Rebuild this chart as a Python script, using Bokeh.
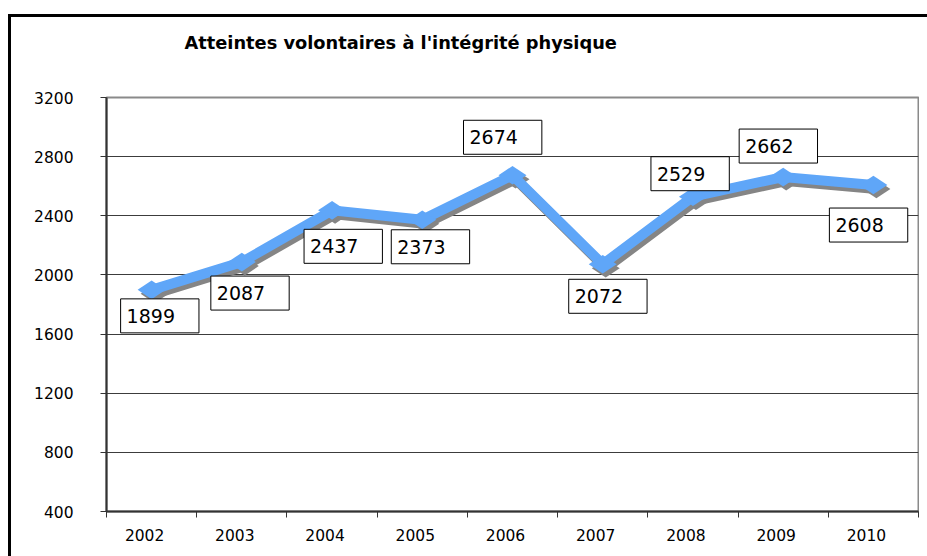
from bokeh.plotting import figure
from bokeh.models import Range1d, FixedTicker, Label, LinearAxis
from bokeh.embed import file_html
from bokeh.resources import INLINE

# ---- data ----
years = ["2002", "2003", "2004", "2005", "2006", "2007", "2008", "2009", "2010"]
values = [1899, 2087, 2437, 2373, 2674, 2072, 2529, 2662, 2608]
y_ticks = [400, 800, 1200, 1600, 2000, 2400, 2800, 3200]
title_text = "Atteintes volontaires à l'intégrité physique"

# label box offsets (px, relative to point: right, down)
label_offsets = [(-31, 9), (-31, 14), (-28, 19), (-31, 10), (-49, -55),
                 (-34, 15), (-42, -40), (-44, -48), (-44, 23)]

n = len(years)
Y0, Y1 = 400, 3200
W, H = 919, 548
ML, MR, MT, MB = 106, 1, 97, 37
frame_w = W - ML - MR
frame_h = H - MT - MB
ux = n / frame_w            # data units per px (x)
uy = (Y1 - Y0) / frame_h    # data units per px (y)

p = figure(width=W, height=H, output_backend="svg", toolbar_location=None,
           x_range=Range1d(0, n), y_range=Range1d(Y0, Y1),
           min_border_left=ML, min_border_right=MR,
           min_border_top=MT, min_border_bottom=MB,
           background_fill_color="white", border_fill_color="white")

# invisible spacer axis between the title and the plot area
mid = n / 2
spacer = LinearAxis(ticker=FixedTicker(ticks=[mid]), major_label_overrides={mid: ""},
                    major_tick_out=45, major_tick_in=0, major_label_standoff=0,
                    minor_tick_out=0, minor_tick_in=0, axis_line_color=None,
                    major_tick_line_color=None, minor_tick_line_color=None,
                    major_label_text_font_size="1px")
p.add_layout(spacer, "above")

# title
p.title.text = title_text
p.title.text_font = "DejaVu Sans"
p.title.text_font_style = "bold"
p.title.text_font_size = "17.8px"
p.title.text_color = "black"
p.title.align = "left"
p.title.vertical_align = "bottom"
p.title.offset = 78
p.title.standoff = 0

# frame outline
p.outline_line_color = "#8a8a8a"
p.outline_line_width = 2

# x axis
xs = [i + 0.5 for i in range(n)]
shift = 7 * ux
lab_pos = [x - shift for x in xs]
xaxis = p.below[0]
xaxis.ticker = FixedTicker(ticks=lab_pos, minor_ticks=list(range(n + 1)))
xaxis.major_label_overrides = {lp: yr for lp, yr in zip(lab_pos, years)}
xaxis.major_tick_line_color = None
xaxis.minor_tick_line_color = "#333333"
xaxis.minor_tick_line_width = 1
xaxis.minor_tick_out = 6
xaxis.minor_tick_in = 0
xaxis.axis_line_color = "#333333"
xaxis.axis_line_width = 2
xaxis.major_label_text_font = "DejaVu Sans"
xaxis.major_label_text_font_size = "15.5px"
xaxis.major_label_text_color = "black"
xaxis.major_label_standoff = 11

# y axis
p.yaxis.ticker = FixedTicker(ticks=y_ticks)
p.yaxis.minor_tick_line_color = None
p.yaxis.major_tick_out = 6
p.yaxis.major_tick_in = 0
p.yaxis.major_tick_line_color = "#333333"
p.yaxis.axis_line_color = "#333333"
p.yaxis.axis_line_width = 2
p.yaxis.major_label_text_font = "DejaVu Sans"
p.yaxis.major_label_text_font_size = "15.5px"
p.yaxis.major_label_text_color = "black"
p.yaxis.major_label_standoff = 27

p.xgrid.grid_line_color = None
p.ygrid.grid_line_color = "#3c3c3c"
p.ygrid.grid_line_width = 1

# shadow (shifted ranges)
p.extra_x_ranges = {"sh": Range1d(0 - 3 * ux, n - 3 * ux)}
p.extra_y_ranges = {"sh": Range1d(Y0 + 4 * uy, Y1 + 4 * uy)}
shadow = "#858585"
blue = "#5fa6f8"
p.line(xs, values, line_color=shadow, line_width=10, line_join="miter",
       x_range_name="sh", y_range_name="sh")
p.scatter(xs, values, marker="diamond", angle=1.5708, size=28,
          fill_color=shadow, line_color=None, x_range_name="sh", y_range_name="sh")
p.line(xs, values, line_color=blue, line_width=10, line_join="miter")
p.scatter(xs, values, marker="diamond", angle=1.5708, size=28,
          fill_color=blue, line_color=None)

# data labels
for x, v, (dx, dy) in zip(xs, values, label_offsets):
    p.add_layout(Label(x=x, y=v, x_offset=dx, y_offset=-dy, text=str(v),
                       text_align="left", text_baseline="top",
                       text_font="DejaVu Sans", text_font_size="19px",
                       text_color="black",
                       background_fill_color="white",
                       border_line_color="black", border_line_width=1,
                       padding=dict(left=6, right=24, top=10, bottom=10)))

# outer chart border (left and top edges; right/bottom lie outside the view)
p.stylesheets = [":host::after { content: ''; position: absolute; left: 8px; top: 14px; "
                 "width: 2000px; height: 2000px; border-left: 3px solid black; "
                 "border-top: 3px solid black; pointer-events: none; }"]

open("out.html", "w").write(file_html(p, INLINE))
